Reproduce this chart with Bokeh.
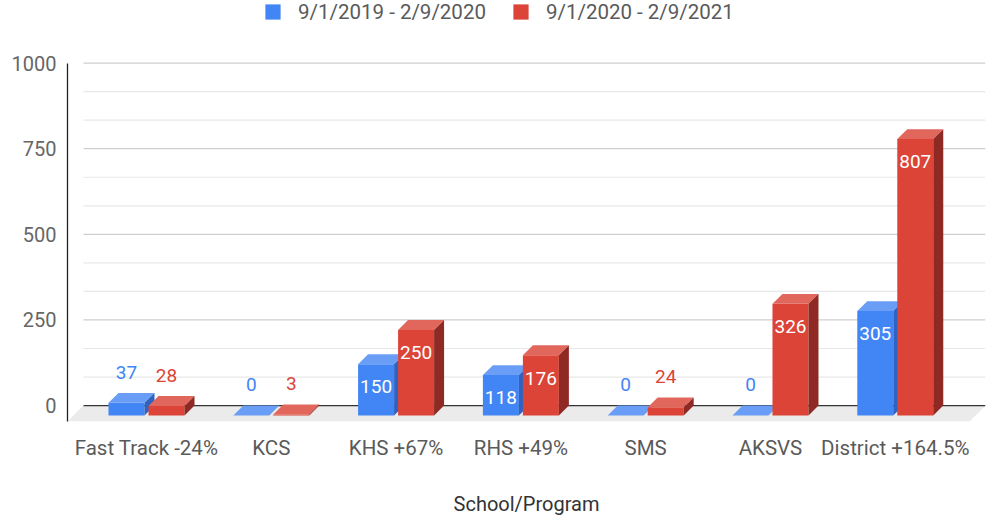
import numpy as np
from bokeh.plotting import figure
from bokeh.models import FixedTicker, Legend, LegendItem, Range1d
from bokeh.core.properties import value
from bokeh.embed import file_html
from bokeh.resources import INLINE

# ---------------- data ----------------
categories = ["Fast Track -24%", "KCS", "KHS +67%", "RHS +49%", "SMS", "AKSVS", "District +164.5%"]
series_names = ["9/1/2019 - 2/9/2020", "9/1/2020 - 2/9/2021"]
values_2019 = [37, 0, 150, 118, 0, 0, 305]
values_2020 = [28, 3, 250, 176, 24, 326, 807]
y_ticks = [0, 250, 500, 750, 1000]
x_title = "School/Program"

# ---------------- style ----------------
FONT = "Roboto"
front_colors = ["#4285F4", "#DB4437"]
top_colors = ["#6a9ef6", "#e1675c"]
side_colors = ["#2f63c2", "#8e2a23"]

W, H = 987, 518
BORDER_L, BORDER_R, BORDER_T, BORDER_B = 67, 2, 0, 94
X0, X1 = -0.633, 6.723
Y0, Y1 = -46.4, 1182.6
frame_w = W - BORDER_L - BORDER_R
frame_h = H - BORDER_T - BORDER_B
ppx = frame_w / (X1 - X0)   # px per x unit
ppy = frame_h / (Y1 - Y0)   # px per y unit

bar_w = 36 / ppx
gap = 2 / ppx
dx = 10 / ppx
dy = 10 / ppy
floor_dx = 16 / ppx
floor_dy = 16 / ppy
inside_off = 23 / ppy
outside_off = 31 / ppy
inside_min = 100

p = figure(width=W, height=H, output_backend="svg", toolbar_location=None,
           x_range=Range1d(X0, X1), y_range=Range1d(Y0, Y1),
           min_border_left=BORDER_L, min_border_right=BORDER_R,
           min_border_top=BORDER_T, min_border_bottom=BORDER_B)
p.outline_line_color = None
p.xgrid.visible = False
p.ygrid.visible = False
p.background_fill_color = "white"

# floor
p.patch([X0, X1 - floor_dx, X1, X0 + floor_dx], [-floor_dy, -floor_dy, 0, 0],
        fill_color="#ebebeb", line_color=None)

# gridlines (back plane)
minor = []
for a, b in zip(y_ticks[:-1], y_ticks[1:]):
    minor += [a + (b - a) / 3, a + 2 * (b - a) / 3]
n_min = len(minor)
p.segment(x0=[X0 + floor_dx] * n_min, x1=[X1] * n_min, y0=minor, y1=minor,
          line_color="#e8e8e8", line_width=1.2)
maj = [t for t in y_ticks if t != 0]
p.segment(x0=[X0 + floor_dx] * len(maj), x1=[X1] * len(maj), y0=maj, y1=maj,
          line_color="#cfcfcf", line_width=1.2)
p.segment(x0=[X0 + floor_dx], x1=[X1], y0=[0], y1=[0], line_color="#333333", line_width=1.3)

# bars
legend_items = []
for k, vals in enumerate([values_2019, values_2020]):
    idx = np.arange(len(vals))
    if k == 0:
        L = idx - gap - bar_w
    else:
        L = idx + gap
    R = L + bar_w
    v = np.array(vals, dtype=float)
    fr = p.quad(left=L, right=R, bottom=-dy, top=v - dy,
                fill_color=front_colors[k], line_color=None)
    top_xs = [[l, r, r + dx, l + dx] for l, r in zip(L, R)]
    top_ys = [[vv - dy, vv - dy, vv, vv] for vv in v]
    p.patches(top_xs, top_ys, fill_color=top_colors[k], line_color=None)
    side_xs = [[r, r + dx, r + dx, r] for r in R]
    side_ys = [[-dy, 0, vv, vv - dy] for vv in v]
    p.patches(side_xs, side_ys, fill_color=side_colors[k], line_color=None)
    legend_items.append(LegendItem(label=series_names[k], renderers=[fr]))

    cx = (L + R) / 2
    ly, lc = [], []
    for vv in v:
        if vv >= inside_min:
            ly.append(vv - dy - inside_off)
            lc.append("white")
        else:
            ly.append(vv - dy + outside_off)
            lc.append(front_colors[k])
    p.text(x=list(cx), y=ly, text=[str(int(a)) for a in vals], text_color=lc,
           text_font=value(FONT), text_font_size="19px",
           text_align="center", text_baseline="middle")

# axes
p.yaxis.ticker = FixedTicker(ticks=y_ticks)
p.yaxis.bounds = (Y0, y_ticks[-1])
p.yaxis.axis_line_color = "#222222"
p.yaxis.axis_line_width = 1.3
p.yaxis.major_tick_line_color = None
p.yaxis.minor_tick_line_color = None
p.yaxis.major_label_standoff = 5
p.yaxis.major_label_text_font = FONT
p.yaxis.major_label_text_font_size = "20px"
p.yaxis.major_label_text_color = "#666666"

p.xaxis.ticker = FixedTicker(ticks=list(range(len(categories))))
p.xaxis.major_label_overrides = {i: c for i, c in enumerate(categories)}
p.xaxis.axis_line_color = None
p.xaxis.major_tick_line_color = None
p.xaxis.minor_tick_line_color = None
p.xaxis.major_label_standoff = 8
p.xaxis.major_label_text_font = FONT
p.xaxis.major_label_text_font_size = "20.5px"
p.xaxis.major_label_text_color = "#5a5a5a"
p.xaxis.axis_label = x_title
p.xaxis.axis_label_text_font = FONT
p.xaxis.axis_label_text_font_size = "20px"
p.xaxis.axis_label_text_font_style = "normal"
p.xaxis.axis_label_text_color = "#333333"
p.xaxis.axis_label_standoff = 29

legend = Legend(items=legend_items, orientation="horizontal",
                location=(196, frame_h - 26.5),
                glyph_width=19, glyph_height=19, label_height=19,
                label_standoff=16, spacing=25, padding=0, margin=0,
                border_line_color=None, background_fill_alpha=0,
                label_text_font=FONT, label_text_font_size="20.5px",
                label_text_color="#5a5a5a")
p.add_layout(legend)

open("out.html", "w").write(file_html(p, INLINE))
